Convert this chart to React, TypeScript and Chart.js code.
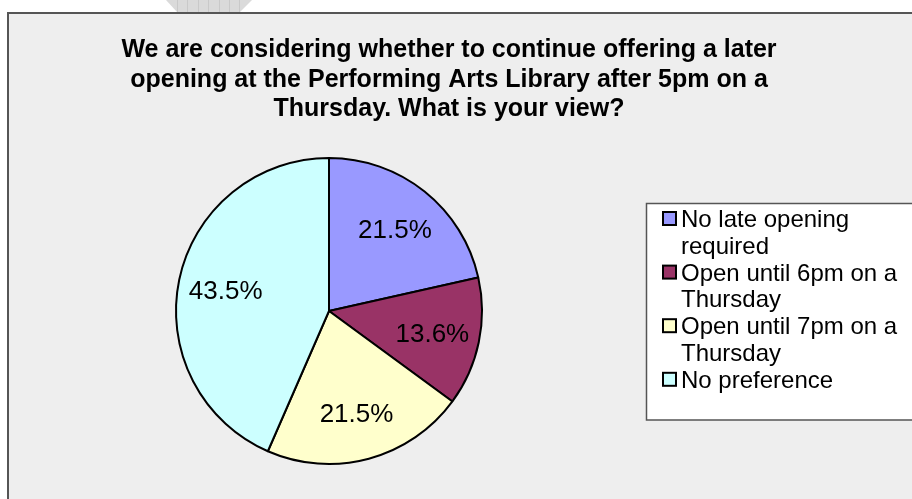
import React, { useEffect, useRef } from "react";
import { Chart, registerables } from "chart.js";

Chart.register(...registerables);

const categories = [
  "No late opening required",
  "Open until 6pm on a Thursday",
  "Open until 7pm on a Thursday",
  "No preference",
];
const percentages = [21.5, 13.6, 21.5, 43.5];
const sliceColors = ["#9999FF", "#993366", "#FFFFCC", "#CCFFFF"];
const titleLines = [
  "We are considering whether to continue offering a later",
  "opening at the Performing Arts Library after 5pm on a",
  "Thursday. What is your view?",
];

const FONT = "'Liberation Sans', Arial, sans-serif";

function wrapText(ctx: CanvasRenderingContext2D, text: string, maxWidth: number): string[] {
  const words = text.split(" ");
  const lines: string[] = [];
  let cur = "";
  for (const w of words) {
    const test = cur ? cur + " " + w : w;
    if (ctx.measureText(test).width > maxWidth && cur) {
      lines.push(cur);
      cur = w;
    } else {
      cur = test;
    }
  }
  if (cur) lines.push(cur);
  return lines;
}

const decorPlugin = {
  id: "decor",
  beforeDraw(chart: any) {
    const ctx: CanvasRenderingContext2D = chart.ctx;
    const W = chart.width;
    const H = chart.height;
    ctx.save();
    ctx.fillStyle = "#ffffff";
    ctx.fillRect(0, 0, W, H);
    // small artifact at top
    ctx.fillStyle = "#dadada";
    ctx.beginPath();
    ctx.moveTo(166, 0);
    ctx.lineTo(252, 0);
    ctx.lineTo(240, 12);
    ctx.lineTo(177, 12);
    ctx.closePath();
    ctx.fill();
    ctx.strokeStyle = "#c9c9c9";
    ctx.lineWidth = 1;
    for (let x = 177; x <= 240; x += 10.4) {
      ctx.beginPath();
      ctx.moveTo(Math.round(x) + 0.5, 0);
      ctx.lineTo(Math.round(x) + 0.5, 12);
      ctx.stroke();
    }
    // frame
    ctx.fillStyle = "#eeeeee";
    ctx.fillRect(8, 12, W - 8, H - 12);
    ctx.fillStyle = "#555555";
    ctx.fillRect(7, 12, W - 7, 2);
    ctx.fillRect(7, 12, 2, H - 12);

    // title
    ctx.fillStyle = "#000000";
    ctx.font = `bold 25px ${FONT}`;
    ctx.textAlign = "center";
    ctx.textBaseline = "alphabetic";
    titleLines.forEach((t, i) => ctx.fillText(t, 449, 57 + i * 29.5));

    // legend
    ctx.fillStyle = "#ffffff";
    ctx.fillRect(646, 203, W - 646 + 5, 217);
    ctx.strokeStyle = "#555555";
    ctx.lineWidth = 1.5;
    ctx.strokeRect(646.5, 203.5, W - 646 + 5, 216.5);
    ctx.font = `24px ${FONT}`;
    ctx.textAlign = "left";
    const labels: string[] = chart.data.labels;
    const colors: string[] = chart.data.datasets[0].backgroundColor;
    let line = 0;
    const lh = 26.8;
    labels.forEach((lab, i) => {
      const lines = wrapText(ctx, lab, 228);
      const baseY = 227 + line * lh;
      ctx.fillStyle = "#000000";
      ctx.fillRect(662, baseY - 16, 15, 15);
      ctx.fillStyle = colors[i];
      ctx.fillRect(664, baseY - 14, 11, 11);
      ctx.fillStyle = "#000000";
      lines.forEach((l, j) => ctx.fillText(l, 681, baseY + j * lh));
      line += lines.length;
    });
    ctx.restore();
  },
  afterDatasetsDraw(chart: any) {
    const ctx: CanvasRenderingContext2D = chart.ctx;
    const meta = chart.getDatasetMeta(0);
    const data: number[] = chart.data.datasets[0].data;
    ctx.save();
    ctx.font = `26px ${FONT}`;
    ctx.fillStyle = "#000000";
    ctx.textAlign = "center";
    ctx.textBaseline = "alphabetic";
    meta.data.forEach((arc: any, i: number) => {
      const p = arc.getProps(["x", "y", "startAngle", "endAngle", "outerRadius"], true);
      const mid = (p.startAngle + p.endAngle) / 2;
      const d = p.outerRadius * 0.69;
      ctx.fillText(
        data[i].toFixed(1) + "%",
        p.x + Math.cos(mid) * d,
        p.y + Math.sin(mid) * d + 9.5
      );
    });
    ctx.restore();
  },
};

export default function App() {
  const ref = useRef<HTMLCanvasElement>(null);
  useEffect(() => {
    if (!ref.current) return;
    const chart = new Chart(ref.current, {
      type: "pie",
      data: {
        labels: categories,
        datasets: [
          {
            data: percentages,
            backgroundColor: sliceColors,
            borderColor: "#000000",
            borderWidth: 2,
          },
        ],
      },
      options: {
        responsive: false,
        animation: false,
        layout: { padding: { left: 175, top: 157, right: 429, bottom: 34 } },
        plugins: {
          legend: { display: false },
          tooltip: { enabled: false },
          title: { display: false },
        },
      },
      plugins: [decorPlugin],
    });
    return () => chart.destroy();
  }, []);
  return (
    <div style={{ position: "fixed", left: 0, top: 0, width: 912, height: 499 }}>
      <canvas ref={ref} width={912} height={499} style={{ display: "block" }} />
    </div>
  );
}
